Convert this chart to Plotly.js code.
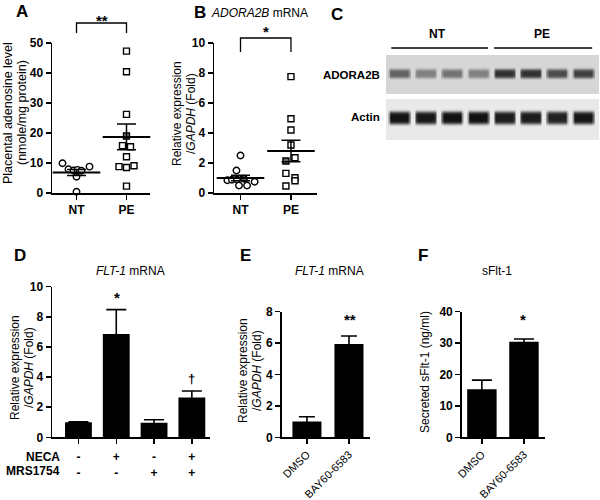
<!DOCTYPE html>
<html><head><meta charset="utf-8">
<script src="https://cdn.plot.ly/plotly-3.0.1.min.js"></script>
<style>html,body{margin:0;padding:0;background:#fff}#chart{width:600px;height:500px}</style>
</head><body><div id="chart"></div>
<script>
// ---------- DATA ----------
// Panel A: placental adenosine (nmole/mg protein)
const groupsAB = ['NT', 'PE'];
const adenosineNT = [9.9, 7.9, 7.5, 7.7, 7.4, 5.4, 8.8, 0.4];
const adenosinePE = [47.3, 40.4, 26.2, 19.0, 15.8, 15.4, 12.1, 8.8, 8.5, 9.1, 2.3];
const adenosineMean = [6.8, 18.7];
const adenosineSEM = [1.0, 4.3];
// Panel B: ADORA2B mRNA (fold)
const adora2bNT = [2.5, 1.5, 0.85, 0.88, 0.9, 0.95, 0.5, 0.5, 0.75];
const adora2bPE = [7.76, 4.95, 4.2, 3.2, 2.35, 2.13, 1.31, 1.02, 0.82, 0.47];
const adora2bMean = [1.0, 2.8];
const adora2bSEM = [0.18, 0.72];
// Panel C: western blot band intensities (0 = none, 1 = black)
const blotLanes = [1, 2, 3, 4, 5, 6, 7, 8];
const blotGroups = ['NT', 'PE'];
const adora2bBand = [0.6, 0.45, 0.52, 0.45, 0.86, 0.86, 0.72, 0.78];
const actinBand = [0.97, 0.95, 0.98, 0.98, 0.93, 0.93, 0.9, 0.96];
// Panel D: FLT-1 mRNA with NECA / MRS1754
const necaRow = ['-', '+', '-', '+'];
const mrsRow = ['-', '-', '+', '+'];
const flt1D = [1.0, 6.86, 0.97, 2.65];
const flt1DErr = [0.03, 1.62, 0.2, 0.42];
// Panel E: FLT-1 mRNA, DMSO vs BAY60-6583
const treatEF = ['DMSO', 'BAY60-6583'];
const flt1E = [1.0, 5.94];
const flt1EErr = [0.31, 0.51];
// Panel F: secreted sFlt-1 (ng/ml)
const sflt1F = [15.3, 30.4];
const sflt1FErr = [2.9, 0.9];

// ---------- helpers / style ----------
const P = px => px / 600, Q = py => 1 - py / 500;
const FONT = 'Liberation Sans, Arial, sans-serif';
// per-point jitter and fills (styling, not data)
const jitANT = [-0.28, -0.16, -0.06, 0.02, 0.1, 0, 0.26, 0];
const jitAPE = [0, 0, 0, 0, -0.08, 0.08, 0, -0.15, 0, 0.15, 0];
const fillAPE = adenosinePE.map((v, i) => i === 3 ? '#777' : '#fff');
const jitBNT = [0, -0.08, -0.26, -0.17, -0.07, 0.07, -0.03, 0.13, 0.28];
const fillBNT = adora2bNT.map((v, i) => i === 5 ? '#666' : '#fff');
const jitBPE = [0, 0, 0, 0, 0.08, -0.1, -0.1, 0.08, 0.08, -0.1];
const fillBPE = adora2bPE.map((v, i) => i === 5 ? '#666' : '#fff');

function pts(vals, cat, jit, fills, sym, xa, ya) {
  return {type: 'scatter', mode: 'markers', xaxis: xa, yaxis: ya, cliponaxis: false,
    x: vals.map((v, i) => cat + jit[i]), y: vals, hoverinfo: 'skip',
    marker: {symbol: sym, size: sym === 'circle' ? 6.5 : 6, color: fills || '#fff', line: {color: '#000', width: 1.4}}};
}
function meanTrace(means, sems, xa, ya) {
  return {type: 'scatter', mode: 'markers', xaxis: xa, yaxis: ya, cliponaxis: false,
    x: means.map((m, i) => i), y: means, hoverinfo: 'skip',
    marker: {symbol: 'line-ew-open', size: 34, color: '#000', line: {color: '#000', width: 2}},
    error_y: {type: 'data', array: sems, visible: true, color: '#000', thickness: 1.5, width: 9.5}};
}
function barTrace(vals, errs, xa, ya, bw, cap) {
  return {type: 'bar', xaxis: xa, yaxis: ya, x: vals.map((v, i) => i), y: vals, width: bw,
    marker: {color: '#000', line: {width: 0}}, hoverinfo: 'skip',
    error_y: {type: 'data', array: errs, visible: true, color: '#000', thickness: 1.6, width: cap}};
}
function blotTrace(intensity, center, half, xa, ya, bg, dark) {
  const xs = [], ys = [];
  for (let k = 0; k <= 170; k++) xs.push(+(0.35 + k * 0.05).toFixed(3));
  for (let k = 0; k <= 40; k++) ys.push(+(k * 0.025).toFixed(3));
  const z = ys.map(y => xs.map(x => {
    let val = 0;
    blotLanes.forEach((l, i) => {
      const dx = Math.abs(x - l);
      const fx = Math.max(0, Math.min(1, (0.45 - dx) / 0.12));
      const dy = Math.abs(y - center - 0.015 * (x - l) * (x - l));
      const fy = Math.exp(-Math.pow(dy / half, 4));
      val = Math.max(val, intensity[i] * fx * fy);
    });
    return val;
  }));
  return {type: 'heatmap', x: xs, y: ys, z: z, zmin: 0, zmax: 1, zsmooth: 'best', showscale: false,
    colorscale: [[0, bg], [1, dark]], xaxis: xa, yaxis: ya, hoverinfo: 'skip'};
}

const traces = [
  pts(adenosineNT, 0, jitANT, null, 'circle', 'x', 'y'),
  pts(adenosinePE, 1, jitAPE, fillAPE, 'square', 'x', 'y'),
  meanTrace(adenosineMean, adenosineSEM, 'x', 'y'),
  pts(adora2bNT, 0, jitBNT, fillBNT, 'circle', 'x2', 'y2'),
  pts(adora2bPE, 1, jitBPE, fillBPE, 'square', 'x2', 'y2'),
  meanTrace(adora2bMean, adora2bSEM, 'x2', 'y2'),
  blotTrace(adora2bBand, 0.53, 0.13, 'x3', 'y3', '#d6d6d6', '#161616'),
  blotTrace(actinBand, 0.55, 0.15, 'x4', 'y4', '#e9e9e9', '#0c0c0c'),
  barTrace(flt1D, flt1DErr, 'x5', 'y5', 0.71, 10),
  barTrace(flt1E, flt1EErr, 'x6', 'y6', 0.69, 8),
  barTrace(sflt1F, sflt1FErr, 'x7', 'y7', 0.7, 10)
];

function yAx(domain, range, dtick, anchor) {
  return {domain: domain, range: range, dtick: dtick, tick0: 0, anchor: anchor,
    showline: true, linecolor: '#000', linewidth: 1.5, ticks: 'outside', ticklen: 5, tickwidth: 1.5,
    tickcolor: '#000', showgrid: false, zeroline: false, fixedrange: true,
    tickfont: {family: FONT, size: 12, weight: 'bold', color: '#000'}};
}
function xAx(domain, range, tickvals, ticktext, anchor, extra) {
  return Object.assign({domain: domain, range: range, tickvals: tickvals, ticktext: ticktext, anchor: anchor,
    showline: true, linecolor: '#000', linewidth: 1.5, ticks: 'outside', ticklen: 5, tickwidth: 1.5,
    tickcolor: '#000', showgrid: false, zeroline: false, fixedrange: true,
    tickfont: {family: FONT, size: 12, weight: 'bold', color: '#000'}}, extra || {});
}
const hid = (domain, range, anchor) => ({domain: domain, range: range, anchor: anchor, visible: false, fixedrange: true});

const idx2 = [0, 1], idx4 = [0, 1, 2, 3];
const layout = {
  width: 600, height: 500, margin: {l: 0, r: 0, t: 0, b: 0}, showlegend: false,
  paper_bgcolor: '#fff', plot_bgcolor: 'rgba(0,0,0,0)',
  font: {family: FONT, color: '#000', size: 12},
  xaxis: xAx([P(52), P(150)], [-0.49, 1.47], idx2, groupsAB, 'y'),
  yaxis: yAx([Q(193), Q(43)], [0, 50], 10, 'x'),
  xaxis2: xAx([P(214), P(316.7)], [-0.525, 1.51], idx2, groupsAB, 'y2'),
  yaxis2: yAx([Q(193), Q(43)], [0, 10], 2, 'x2'),
  xaxis3: hid([P(386), P(599)], [0.5, 8.6], 'y3'),
  yaxis3: hid([Q(94), Q(55)], [0, 1], 'x3'),
  xaxis4: hid([P(386), P(599)], [0.5, 8.6], 'y4'),
  yaxis4: hid([Q(140), Q(99)], [0, 1], 'x4'),
  xaxis5: xAx([P(52), P(210)], [-0.70, 3.48], idx4, necaRow.map((n, i) => n + '<br>' + mrsRow[i]), 'y5',
    {ticklabelstandoff: 3, tickfont: {family: FONT, size: 12, weight: 'bold', color: '#000'}}),
  yaxis5: yAx([Q(437.3), Q(286.7)], [0, 10], 2, 'x5'),
  xaxis6: xAx([P(281.7), P(370)], [-0.60, 1.5], idx2, treatEF, 'y6', {tickangle: -45, tickfont: {family: FONT, size: 11, color: '#000'}}),
  yaxis6: yAx([Q(437.3), Q(311.7)], [0, 8], 2, 'x6'),
  xaxis7: xAx([P(461.7), P(545)], [-0.48, 1.5], idx2, treatEF, 'y7', {tickangle: -45, tickfont: {family: FONT, size: 11, color: '#000'}}),
  yaxis7: yAx([Q(437.3), Q(311.7)], [0, 40], 10, 'x7'),
  shapes: [], annotations: []
};

// brackets
layout.shapes.push({type: 'path', xref: 'x', yref: 'paper', path: `M0,${Q(33)} L0,${Q(23)} L1,${Q(23)} L1,${Q(33)}`, line: {color: '#000', width: 1.3}});
layout.shapes.push({type: 'path', xref: 'x2', yref: 'paper', path: `M0,${Q(52)} L0,${Q(38)} L1,${Q(38)} L1,${Q(52)}`, line: {color: '#000', width: 1.3}});
// blot group lines
layout.shapes.push({type: 'line', xref: 'x3', yref: 'paper', x0: 0.7, x1: 4.38, y0: Q(48), y1: Q(48), line: {color: '#000', width: 1.6}});
layout.shapes.push({type: 'line', xref: 'x3', yref: 'paper', x0: 4.61, x1: 8.34, y0: Q(48), y1: Q(48), line: {color: '#000', width: 1.6}});

function ann(text, px, py, opts) {
  layout.annotations.push(Object.assign({text: text, x: P(px), y: Q(py), xref: 'paper', yref: 'paper',
    showarrow: false, xanchor: 'center', yanchor: 'middle', font: {family: FONT, size: 12, color: '#000'}}, opts || {}));
}
const bold = (s) => ({family: FONT, size: s, weight: 'bold', color: '#000'});
const norm = (s) => ({family: FONT, size: s, color: '#000'});
// panel letters
ann('A', 22, 11, {font: bold(17)});
ann('B', 200, 12, {font: bold(17)});
ann('C', 337, 14, {font: bold(17)});
ann('D', 20, 255, {font: bold(17)});
ann('E', 245, 255, {font: bold(17)});
ann('F', 423, 255, {font: bold(17)});
// panel titles
ann('<i>ADORA2B</i> mRNA', 259, 13, {font: norm(12)});
ann('<i>FLT-1</i> mRNA', 130, 271, {font: norm(12)});
ann('<i>FLT-1</i> mRNA', 329, 271, {font: norm(12)});
ann('sFlt-1', 497, 271, {font: norm(12)});
// y-axis titles
ann('Placental adenosine level', 8, 113, {textangle: -90, font: norm(12.5)});
ann('(nmole/mg protein)', 22, 113, {textangle: -90, font: norm(12.5)});
ann('Relative expression', 177, 114, {textangle: -90, font: norm(12)});
ann('/<i>GAPDH</i> (Fold)', 191, 114, {textangle: -90, font: norm(12)});
ann('Relative expression', 15, 368, {textangle: -90, font: norm(12)});
ann('/<i>GAPDH</i> (Fold)', 29, 368, {textangle: -90, font: norm(12)});
ann('Relative expression', 243, 371, {textangle: -90, font: norm(12)});
ann('/<i>GAPDH</i> (Fold)', 257, 371, {textangle: -90, font: norm(12)});
ann('Secreted sFlt-1 (ng/ml)', 425, 372, {textangle: -90, font: norm(12)});
// significance marks
ann('**', 102, 20, {font: bold(15)});
ann('*', 266, 31, {font: bold(15)});
ann('*', 116.7, 297, {font: bold(15)});
ann('†', 191.7, 378, {font: bold(13)});
ann('**', 350, 319, {font: bold(15)});
ann('*', 523, 319, {font: bold(15)});
// D row labels
ann('NECA', 62, 456.7, {xanchor: 'right', font: bold(12)});
ann('MRS1754', 62, 470.5, {xanchor: 'right', font: bold(12)});
// blot labels
ann('NT', 437, 34, {font: bold(12)});
ann('PE', 542, 34, {font: bold(12)});
ann('ADORA2B', 382, 75, {xanchor: 'right', font: bold(11.5)});
ann('Actin', 382, 117, {xanchor: 'right', font: bold(11.5)});

Plotly.newPlot('chart', traces, layout, {staticPlot: true, displayModeBar: false});
</script></body></html>
